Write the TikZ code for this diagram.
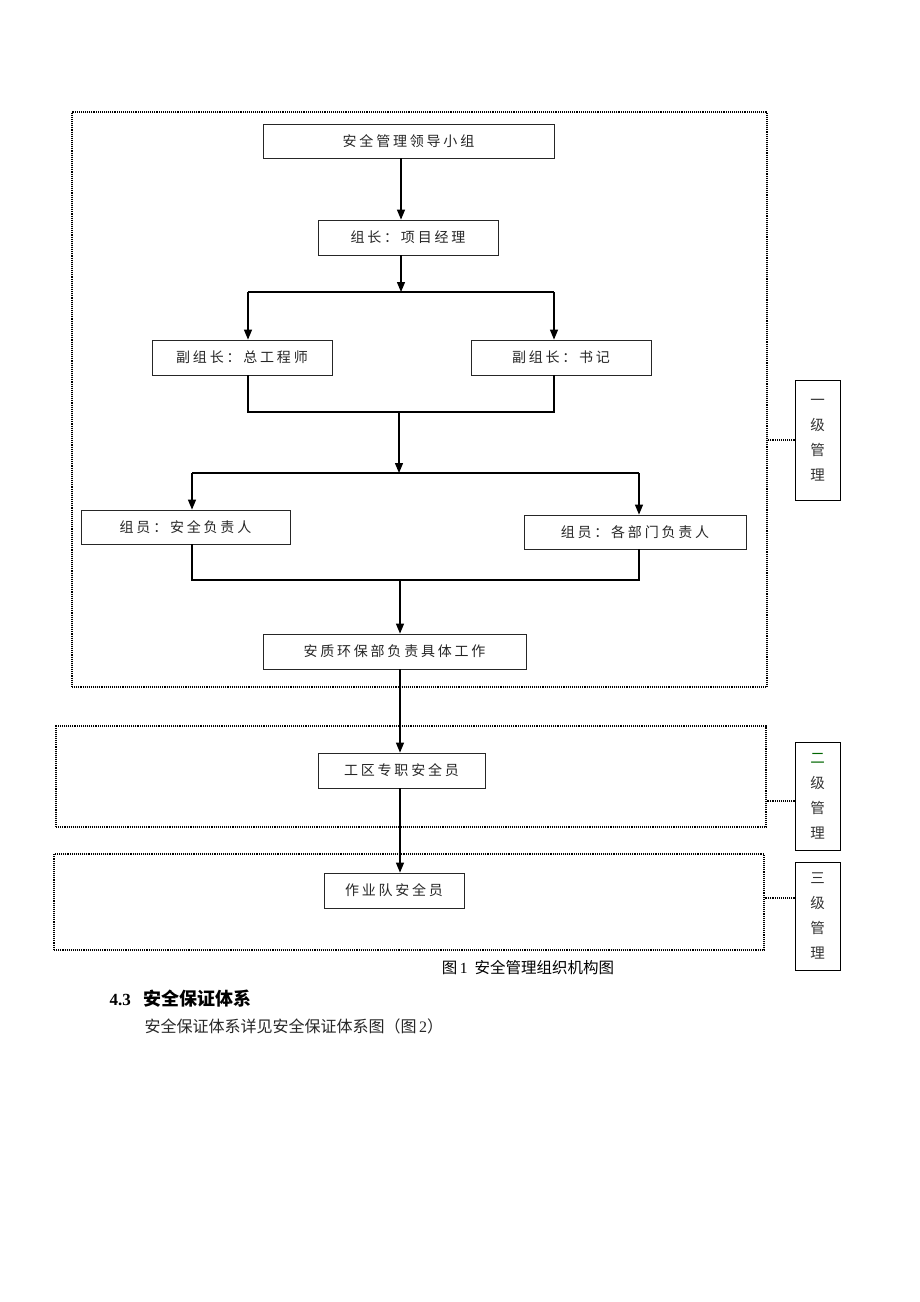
\documentclass[tikz,border=0pt]{standalone}
\usepackage{fontspec}
\setmainfont{Liberation Serif}
\newfontfamily\cjk[LetterSpace=20]{Noto Sans CJK SC}
\newfontfamily\cjkplain{Noto Sans CJK SC}
\usetikzlibrary{arrows.meta}
\tikzset{
  box/.style={draw=black!85, line width=0.8pt, inner sep=0pt, font=\cjk\fontsize{14}{16}\selectfont, text=black!85},
  frame/.style={draw, densely dotted, line width=1.1pt, inner sep=0pt},
  tag/.style={draw, line width=1pt, minimum width=45pt, inner sep=0pt, align=center,
    font=\cjkplain\fontsize{14.5}{25}\selectfont, text=black!80},
  link/.style={line width=1.3pt},
  arr/.style={line width=1.3pt, -{Triangle[length=10pt,width=8pt]}},
  dots/.style={densely dotted, line width=1.1pt}
}
\begin{document}
\begin{tikzpicture}[x=1pt, y=-1pt]
  \useasboundingbox (0,0) rectangle (920,1302);
  % level frames
  \node[frame, minimum width=695pt, minimum height=575pt] (lvl1) at (419.5,399.5) {};
  \node[frame, minimum width=710pt, minimum height=101pt] (lvl2) at (411,776.5) {};
  \node[frame, minimum width=710pt, minimum height=96pt] (lvl3) at (409,902) {};
  % boxes
  \node[box, minimum width=291pt, minimum height=34pt] (lead) at (408.5,141) {安全管理领导小组};
  \node[box, minimum width=180pt, minimum height=35pt] (head) at (408,237.5) {组长：项目经理};
  \node[box, minimum width=180pt, minimum height=35pt] (vice1) at (242,357.5) {副组长：总工程师};
  \node[box, minimum width=180pt, minimum height=35pt] (vice2) at (561,357.5) {副组长：书记};
  \node[box, minimum width=209pt, minimum height=34pt] (mem1) at (185.5,527) {组员：安全负责人};
  \node[box, minimum width=222pt, minimum height=34pt] (mem2) at (635,532) {组员：各部门负责人};
  \node[box, minimum width=263pt, minimum height=35pt] (dept) at (394.5,651.5) {安质环保部负责具体工作};
  \node[box, minimum width=167pt, minimum height=35pt] (area) at (401.5,770.5) {工区专职安全员};
  \node[box, minimum width=140pt, minimum height=35pt] (team) at (394,890.5) {作业队安全员};
  % side tags
  \node[tag, minimum height=120pt] (tag1) at (817.5,440) {一\\级\\管\\理};
  \node[tag, minimum height=108pt] (tag2) at (817.5,796) {\textcolor{green!40!black}{二}\\级\\管\\理};
  \node[tag, minimum height=108pt] (tag3) at (817.5,916) {三\\级\\管\\理};
  % junctions
  \coordinate (j1) at (401,292);
  \coordinate (a1) at (248,292);
  \coordinate (a2) at (554,292);
  \coordinate (j2) at (399,412);
  \coordinate (j3) at (399,473);
  \coordinate (b1) at (192,473);
  \coordinate (b2) at (639,473);
  \coordinate (j4) at (400,580);
  % connectors
  \draw[arr] (lead.south -| j1) -- (head.north -| j1);
  \draw[arr] (head.south -| j1) -- (j1);
  \draw[link] (a1) -- (a2);
  \draw[arr] (a1) -- (a1 |- vice1.north);
  \draw[arr] (a2) -- (a2 |- vice2.north);
  \draw[link] (a1 |- vice1.south) |- (a2 |- j2) -- (a2 |- vice2.south);
  \draw[arr] (j2) -- (j3);
  \draw[link] (b1) -- (b2);
  \draw[arr] (b1) -- (b1 |- mem1.north);
  \draw[arr] (b2) -- (b2 |- mem2.north);
  \draw[link] (b1 |- mem1.south) |- (b2 |- j4) -- (b2 |- mem2.south);
  \draw[arr] (j4) -- (j4 |- dept.north);
  \draw[arr] (dept.south -| j4) -- (j4 |- area.north);
  \draw[arr] (area.south -| j4) -- (j4 |- team.north);
  % frame to tag
  \draw[dots] (tag1.west) -- (tag1.west -| lvl1.east);
  \draw[dots] ([yshift=-5pt]tag2.west) -- ([yshift=-5pt]tag2.west -| lvl2.east);
  \draw[dots] ([yshift=18pt]tag3.west) -- ([yshift=18pt]tag3.west -| lvl3.east);
  % caption and text below
  \node[font=\cjkplain\fontsize{15.5}{17}\selectfont] (cap) at (528,968) {图{\rmfamily\,1}\ \ 安全管理组织机构图};
  \node[anchor=west, font=\fontsize{17}{19}\selectfont\bfseries] (sec) at (106,999) {4.3\ \ \ {\cjkplain\fontsize{18}{20}\selectfont\bfseries 安全保证体系}};
  \node[anchor=west, font=\cjkplain\fontsize{16}{18}\selectfont, text=black!85] (para) at (141,1026) {安全保证体系详见安全保证体系图（图{\rmfamily\,2}）};
\end{tikzpicture}
\end{document}
